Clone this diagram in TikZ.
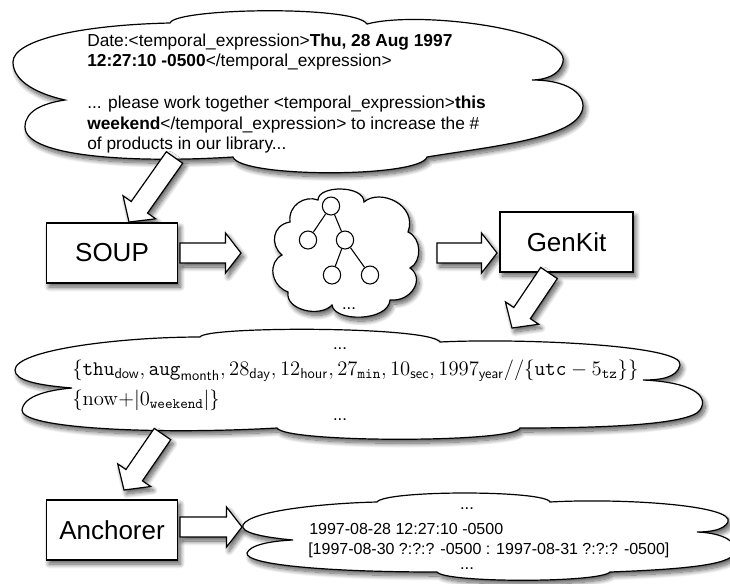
\RequirePackage{fix-cm}
\documentclass[tikz,border=0pt]{standalone}
\usepackage[no-math]{fontspec}
\newfontfamily\hv{Liberation Sans}
\usetikzlibrary{calc,shapes.geometric,shadows.blur}
\tikzset{
  bshadow/.style={blur shadow={shadow xshift=2pt,shadow yshift=-3pt,shadow blur radius=3.5pt,shadow blur steps=12,shadow opacity=65}},
  outl/.style={draw=black,fill=white,line width=0.9pt,bshadow},
  boxn/.style={outl,rectangle,inner sep=0pt,minimum width=98.5pt,minimum height=45pt,font=\hv\fontsize{19.5}{23}\selectfont},
  blk/.style={outl,line join=miter},
  tnode/.style={draw,ellipse,line width=0.8pt,fill=white,inner sep=0pt,minimum width=13pt,minimum height=13.5pt},
  tedge/.style={line width=0.8pt},
  toptxt/.style={inner sep=0pt,anchor=base west,font=\hv\fontsize{13}{15.6}\selectfont},
  bottxt/.style={inner sep=0pt,anchor=base west,font=\hv\fontsize{12}{14.4}\selectfont},
  dots/.style={inner sep=0pt,anchor=base,font=\hv\fontsize{12.5}{15}\selectfont},
  mathtxt/.style={inner sep=0pt,anchor=base west,font=\fontsize{15.5}{18}\selectfont},
}
\newcommand{\blockarr}[3]{%
  \coordinate (bh) at ($(#2)!#3!(#1)$);
  \path[blk] ($(#1)!7.5pt!90:(#2)$) -- ($(bh)!7.5pt!90:(#2)$) -- ($(bh)!15pt!90:(#2)$) -- (#2)
    -- ($(bh)!15pt!-90:(#2)$) -- ($(bh)!7.5pt!-90:(#2)$) -- ($(#1)!7.5pt!-90:(#2)$) -- cycle;
}
\begin{document}
\begin{tikzpicture}[x=0.75pt,y=-0.75pt]
\useasboundingbox (0,0) rectangle (730,583);

% ---------- top cloud
\path[outl] (65,100) .. controls (30,92) and (13,78) .. (13,62)
 .. controls (13,40) and (80,25) .. (170,23)
 .. controls (175,8) and (355,5) .. (367,24)
 .. controls (420,10) and (570,30) .. (563,62)
 .. controls (560,75) and (545,80) .. (532,80)
 .. controls (575,80) and (590,100) .. (580,115)
 .. controls (565,140) and (480,148) .. (427,157)
 .. controls (420,178) and (240,178) .. (233,157)
 .. controls (140,163) and (25,158) .. (25,127)
 .. controls (25,110) and (45,103) .. (65,100) -- cycle;
\node[toptxt] (t1) at (87,46) {Date:<temporal\_expression>\textbf{Thu, 28 Aug 1997}};
\node[toptxt] (t2) at (87,66.75) {\textbf{12:27:10 -0500}</temporal\_expression>};
\node[toptxt] (t3) at (87,108.25) {... please work together <temporal\_expression>\textbf{this}};
\node[toptxt] (t4) at (87,129) {\textbf{weekend}</temporal\_expression> to increase the \#};
\node[toptxt] (t5) at (87,149.75) {of products in our library...};

% ---------- SOUP
\coordinate (a1s) at (174.5,157.5);
\coordinate (a1e) at (129,222);
\blockarr{a1s}{a1e}{13.5pt}
\node[boxn] (soup) at (112,253) {SOUP};
\coordinate (a2s) at (180,253);
\coordinate (a2e) at (241,253);
\blockarr{a2s}{a2e}{11.6pt}

% ---------- tree cloud
\path[outl] (318,200) .. controls (318,185) and (364,185) .. (364,202)
 .. controls (380,188) and (418,205) .. (408,232)
 .. controls (422,238) and (422,262) .. (410,268)
 .. controls (425,278) and (412,302) .. (390,300)
 .. controls (388,322) and (334,322) .. (332,305)
 .. controls (320,318) and (285,310) .. (288,292)
 .. controls (270,285) and (268,262) .. (282,255)
 .. controls (270,245) and (272,225) .. (290,222)
 .. controls (288,205) and (305,195) .. (318,200) -- cycle;
\node[tnode] (r) at (331,206) {};
\node[tnode] (l) at (308,240) {};
\node[tnode] (m) at (345,240) {};
\node[tnode] (ml) at (332,275) {};
\node[tnode] (mr) at (370,275) {};
\draw[tedge] (r) -- (l);
\draw[tedge] (r) -- (m);
\draw[tedge] (m) -- (ml);
\draw[tedge] (m) -- (mr);
\node[dots] (tdots) at (349,309) {...};

% ---------- GenKit
\coordinate (a3s) at (437,253);
\coordinate (a3e) at (497,253);
\blockarr{a3s}{a3e}{11.6pt}
\node[boxn,minimum width=99.75pt] (genkit) at (566.5,242) {GenKit};
\coordinate (a4s) at (549,273);
\coordinate (a4e) at (512,328);
\blockarr{a4s}{a4e}{13.5pt}

% ---------- middle cloud
\path[outl] (72,388) .. controls (35,385) and (15,380) .. (15,370)
 .. controls (15,350) and (120,337) .. (200,337)
 .. controls (205,326) and (430,326) .. (440,342)
 .. controls (520,338) and (685,345) .. (680,365)
 .. controls (677,378) and (660,380) .. (643,380)
 .. controls (690,382) and (710,395) .. (700,410)
 .. controls (690,425) and (600,428) .. (520,428)
 .. controls (515,443) and (285,443) .. (277,428)
 .. controls (150,435) and (20,428) .. (22,410)
 .. controls (24,395) and (50,390) .. (72,388) -- cycle;
\node[dots] (md1) at (340,349) {...};
\node[mathtxt] (f1) at (72,375) {$\{\mathtt{thu}_{\mathsf{dow}},\mathtt{aug}_{\mathsf{month}},28_{\mathsf{day}},12_{\mathsf{hour}},27_{\mathtt{min}},10_{\mathsf{sec}},1997_{\mathsf{year}}//\{\mathtt{utc}-5_{\mathtt{tz}}\}\}$};
\node[mathtxt] (f2) at (72,405) {$\{\mathrm{now}{+}|0_{\mathtt{weekend}}|\}$};
\node[dots] (md2) at (340,420) {...};

% ---------- Anchorer
\coordinate (a5s) at (162.5,434);
\coordinate (a5e) at (124,490);
\blockarr{a5s}{a5e}{13.5pt}
\node[boxn] (anch) at (112,530) {Anchorer};
\coordinate (a6s) at (180,527);
\coordinate (a6e) at (242,527);
\blockarr{a6s}{a6e}{11.6pt}

% ---------- bottom cloud
\path[outl] (293,540) .. controls (260,537) and (240,532) .. (243,525)
 .. controls (250,510) and (330,503) .. (377,502)
 .. controls (385,490) and (545,490) .. (550,502)
 .. controls (620,498) and (735,505) .. (728,522)
 .. controls (724,530) and (710,532) .. (697,532)
 .. controls (725,533) and (740,543) .. (733,555)
 .. controls (725,567) and (660,570) .. (610,572)
 .. controls (600,583) and (445,583) .. (437,572)
 .. controls (330,572) and (245,565) .. (247,553)
 .. controls (250,545) and (270,541) .. (293,540) -- cycle;
\node[dots] (bd1) at (467,509) {...};
\node[bottxt] (b1) at (309,534) {1997-08-28 12:27:10 -0500};
\node[bottxt] (b2) at (308,554) {[1997-08-30 ?:?:? -0500 : 1997-08-31 ?:?:? -0500]};
\node[dots] (bd2) at (467,569) {...};
\end{tikzpicture}
\end{document}
